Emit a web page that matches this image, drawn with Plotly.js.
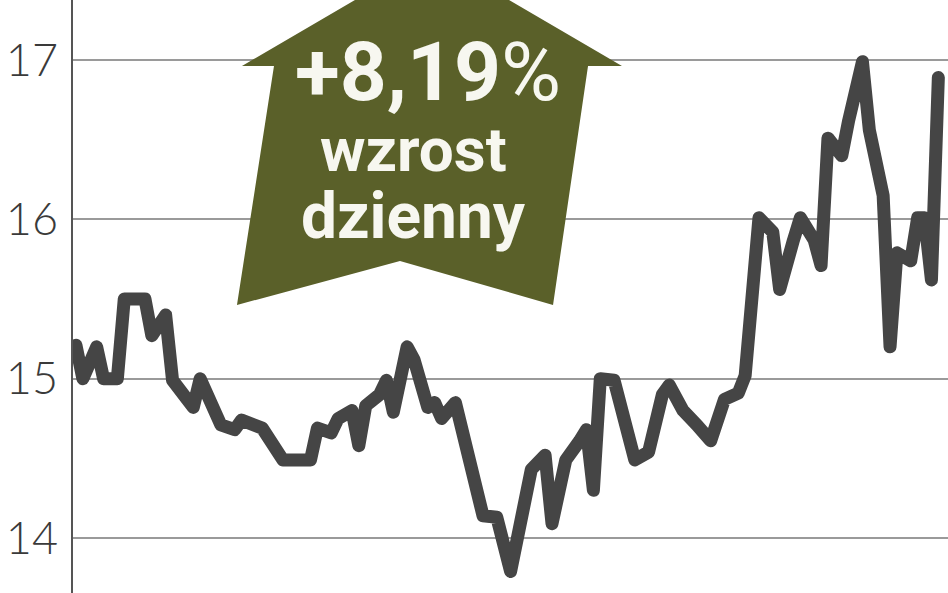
<!DOCTYPE html>
<html>
<head>
<meta charset="utf-8">
<script src="https://cdn.plot.ly/plotly-3.0.1.min.js"></script>
<style>
  html, body { margin: 0; padding: 0; background: #fff; }
  #price-plot { width: 948px; height: 593px; }
  /* rounded corners on the price line, like the print chart */
  #price-plot .js-line { stroke-linejoin: round; stroke-linecap: round; }
</style>
</head>
<body>
<div id="price-plot"></div>
<script>
// session number and closing price
var days = [0, 1, 3, 4, 6, 7, 10, 11, 13, 14, 17, 18, 21, 23, 24, 26, 27, 30, 34,
    35, 37, 38, 40, 41, 42, 44, 45, 46, 48, 49, 51, 52, 53, 55, 58, 59, 61, 63,
    66, 68, 69, 71, 73, 74, 75, 76, 78, 81, 83, 85, 86, 88, 90, 92, 94, 95, 96,
    97, 99, 101, 102, 104, 105, 107, 108, 109, 111, 112, 114, 115, 117, 118,
    119, 121, 122, 123, 124, 125];
var prices = [15.21, 15.0, 15.2, 15.0, 15.0, 15.5, 15.5, 15.27, 15.4, 14.99, 14.82,
    15.0, 14.71, 14.68, 14.74, 14.71, 14.69, 14.49, 14.49,
    14.69, 14.66, 14.75, 14.8, 14.58, 14.83, 14.9, 14.99, 14.79, 15.2, 15.12,
    14.82, 14.85, 14.75, 14.85, 14.3, 14.14, 14.13, 13.79,
    14.43, 14.52, 14.09, 14.49, 14.61, 14.68, 14.3, 15.0, 14.99, 14.49, 14.54,
    14.9, 14.96, 14.8, 14.71, 14.61, 14.87, 14.9, 14.91,
    15.02, 16.01, 15.92, 15.56, 15.87, 16.01, 15.87, 15.71, 16.51, 16.4, 16.62,
    16.99, 16.56, 16.15, 15.2, 15.79, 15.74, 16.01, 16.01, 15.62, 16.89];
var tickValues = [14, 15, 16, 17];
var tickLabels = ['14', '15', '16', '17'];

var badgeValue = '+8,19';
var badgeLine1 = 'wzrost';
var badgeLine2 = 'dzienny';

var olive = '#5a6029';
var textWhite = '#f7f7f0';

var trace1 = {
    x: days,
    y: prices,
    type: 'scatter',
    mode: 'lines',
    line: { color: '#454545', width: 13, shape: 'linear' },
    hoverinfo: 'skip'
};

var layout = {
    width: 948,
    height: 593,
    margin: { l: 73, r: 0, t: 0, b: 0, pad: 0 },
    paper_bgcolor: '#ffffff',
    plot_bgcolor: '#ffffff',
    showlegend: false,
    xaxis: {
        range: [-0.43, 126.4],
        showgrid: false,
        zeroline: false,
        showticklabels: false,
        ticks: '',
        showline: false,
        fixedrange: true
    },
    yaxis: {
        range: [13.655, 17.377],
        tickvals: tickValues,
        ticktext: tickLabels,
        ticks: '',
        ticklabelstandoff: 4,
        showgrid: true,
        gridcolor: '#9a9a9a',
        gridwidth: 2,
        zeroline: false,
        showline: true,
        linecolor: '#555555',
        linewidth: 2,
        tickfont: { family: 'Lato, "DejaVu Sans", sans-serif', size: 45, color: '#3a3a3a', weight: 300 },
        fixedrange: true
    },
    shapes: [{
        // the up arrow behind the daily change
        type: 'path',
        xref: 'paper',
        yref: 'paper',
        path: 'M 0.4103 1.0759 L 0.6274 0.8887 L 0.5886 0.8887 L 0.5486 0.4857 ' +
              'L 0.3737 0.5599 L 0.1874 0.4857 L 0.2297 0.8887 L 0.1931 0.8887 Z',
        fillcolor: olive,
        line: { width: 0 },
        layer: 'above'
    }],
    annotations: [
        {
            xref: 'paper', yref: 'paper', x: 0.406, y: 0.878,
            xanchor: 'center', yanchor: 'middle', showarrow: false,
            text: '<b>' + badgeValue + '</b>%',
            font: { family: 'Roboto, "Liberation Sans", sans-serif', size: 82, color: textWhite }
        },
        {
            xref: 'paper', yref: 'paper', x: 0.3886, y: 0.748,
            xanchor: 'center', yanchor: 'middle', showarrow: false,
            text: '<b>' + badgeLine1 + '</b>',
            font: { family: 'Roboto, "Liberation Sans", sans-serif', size: 62, color: textWhite }
        },
        {
            xref: 'paper', yref: 'paper', x: 0.3886, y: 0.635,
            xanchor: 'center', yanchor: 'middle', showarrow: false,
            text: '<b>' + badgeLine2 + '</b>',
            font: { family: 'Roboto, "Liberation Sans", sans-serif', size: 64, color: textWhite }
        }
    ]
};

var additional_param = {
    displayModeBar: false,          // No toolbar in the picture
    staticPlot: true
};

Plotly.newPlot('price-plot', [trace1], layout, additional_param);
</script>
</body>
</html>
